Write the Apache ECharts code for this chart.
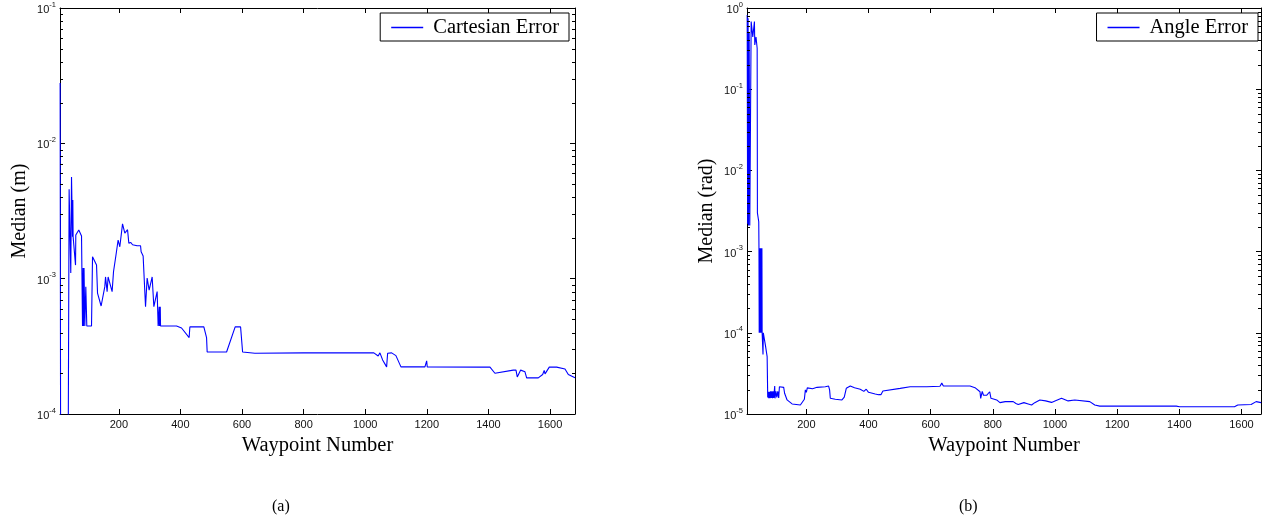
<!DOCTYPE html>
<html>
<head>
<meta charset="utf-8">
<script src="https://cdn.jsdelivr.net/npm/echarts@6/dist/echarts.min.js"></script>
<style>
  html, body { margin: 0; padding: 0; background: #ffffff; }
  #chart { width: 1269px; height: 529px; }
</style>
</head>
<body>
<div id="chart"></div>
<script>
// Waypoint axis tick labels (both panels)
const waypointTicks = [200, 400, 600, 800, 1000, 1200, 1400, 1600];

// Decade ticks of the two log axes
const cartesianDecades = [1e-4, 1e-3, 1e-2, 1e-1];
const angleDecades = [1e-5, 1e-4, 1e-3, 1e-2, 1e-1, 1];

// Panel (a): median cartesian error (m) per waypoint
const cartesianError = [
  [9.4, 0.0279], [12, 1e-6], [33, 1e-6], [38.6, 0.00457], [44, 0.0011], [46.4, 0.00564],
  [49.6, 0.00204], [50.6, 0.00381], [51.6, 0.00204], [59.4, 0.00126], [60.3, 0.0021],
  [70, 0.00229], [78.9, 0.00207], [82.1, 0.000447], [84, 0.0012], [85.4, 0.000447],
  [87, 0.0012], [89.6, 0.000447], [92.8, 0.000873], [96, 0.000447], [98.3, 0.000447],
  [111.3, 0.000447], [114.6, 0.00145], [127.6, 0.00126], [130.8, 0.000783],
  [142.5, 0.000628], [154.5, 0.000873], [156.8, 0.00103], [162, 0.000802],
  [165.2, 0.00103], [178.2, 0.000802], [182.8, 0.00113], [190.3, 0.00147],
  [197.7, 0.00193], [203.2, 0.00172], [212, 0.00254], [219.5, 0.00217], [228.3, 0.0023],
  [232.5, 0.00183], [239, 0.00185], [244.5, 0.00178], [259.4, 0.00175], [270.5, 0.00175],
  [272.4, 0.00158], [278.9, 0.00147], [286.7, 0.000621], [291.9, 0.00101],
  [298.4, 0.000824], [308.2, 0.00103], [313.7, 0.000621], [324.4, 0.000802],
  [327.6, 0.000447], [330.9, 0.000621], [331.8, 0.000447], [334.5, 0.000621],
  [335.4, 0.000447], [387.4, 0.000447], [403.6, 0.000432], [428.3, 0.000367],
  [430.6, 0.00044], [476, 0.00044], [484.8, 0.000367], [486.8, 0.000287],
  [549.8, 0.000287], [577.7, 0.00044], [595.3, 0.00044], [601.8, 0.000287],
  [641.7, 0.000281], [800, 0.000283], [1028, 0.000283], [1042, 0.000268],
  [1047.7, 0.000283], [1056.4, 0.000251], [1060.7, 0.000243], [1069.4, 0.000223],
  [1072.7, 0.000281], [1085.7, 0.000283], [1099.6, 0.00027], [1115.9, 0.000223],
  [1193.8, 0.000223], [1199.4, 0.000247], [1201.3, 0.000223], [1378, 0.000222],
  [1381, 0.000216], [1405, 0.000222], [1421, 0.0002], [1480.6, 0.000211],
  [1489.4, 0.000211], [1493.6, 0.000188], [1500, 0.000185], [1504.6, 0.000211],
  [1518.6, 0.000205], [1524, 0.000185], [1561.8, 0.000185], [1576, 0.000196],
  [1581, 0.00021], [1583.7, 0.000198], [1597.5, 0.000222], [1621.5, 0.000222],
  [1648.5, 0.000215], [1659.3, 0.000196], [1664.7, 0.0002], [1681, 0.000185]
];

// Panel (b): median angle error (rad) per waypoint
const angleError = [
  [9.6, 0.82], [11, 0.0022], [12.5, 0.75], [14, 0.0021], [16, 0.5], [18, 0.0021],
  [20.2, 0.0021], [22.4, 0.68], [27.6, 0.44], [32.9, 0.68], [34, 0.35], [38, 0.44],
  [41.7, 0.32], [42.5, 0.003], [46.8, 0.00233], [47.5, 0.0011], [48.3, 1e-4],
  [49.2, 0.0011], [50, 1e-4], [51, 0.0011], [52, 1e-4], [53, 0.0011], [54, 1e-4],
  [55, 0.0011], [56, 1e-4], [57, 0.0011], [57.7, 1e-4], [59.7, 1e-4], [60.5, 5.4e-5],
  [61.5, 1e-4], [68.3, 7e-5], [73.8, 5.1e-5], [75.7, 1.6e-5], [77, 1.88e-5],
  [79, 1.56e-5], [81, 1.88e-5], [83, 1.56e-5], [85, 1.9e-5], [87, 1.58e-5], [89, 1.9e-5],
  [91, 1.56e-5], [93, 1.9e-5], [95, 1.58e-5], [98.2, 2.21e-5], [99, 1.56e-5],
  [102, 1.9e-5], [105, 1.6e-5], [108, 1.9e-5], [111, 1.58e-5], [113.3, 2.17e-5],
  [116.5, 2.13e-5], [127.1, 2.13e-5], [130, 1.8e-5], [138, 1.49e-5], [154.1, 1.33e-5],
  [180.7, 1.29e-5], [186.2, 1.35e-5], [193.6, 1.52e-5], [196.8, 1.98e-5], [198, 2.02e-5],
  [200, 1.85e-5], [203, 2.1e-5], [207.4, 2.07e-5], [220, 2.05e-5], [234.4, 2.13e-5],
  [261, 2.17e-5], [271.6, 2.21e-5], [274.8, 1.98e-5], [277.1, 1.56e-5], [293.1, 1.52e-5],
  [314.6, 1.49e-5], [322, 1.61e-5], [328.5, 2.07e-5], [341.3, 2.21e-5], [355, 2.1e-5],
  [373.4, 2.02e-5], [385, 1.9e-5], [392.7, 2.02e-5], [400, 1.85e-5], [421.6, 1.76e-5],
  [425, 1.8e-5], [432.2, 1.73e-5], [440, 1.73e-5], [446.3, 1.92e-5], [450.5, 2.02e-5],
  [501.9, 2.07e-5], [534, 2.17e-5], [587.6, 2.17e-5], [630, 2.2e-5], [635.8, 2.4e-5],
  [640.9, 2.21e-5], [726.7, 2.21e-5], [742.7, 2.11e-5], [758.8, 1.88e-5], [761, 1.56e-5],
  [766, 1.9e-5], [770, 1.7e-5], [780, 1.7e-5], [790, 1.88e-5], [794.1, 1.56e-5],
  [800, 1.6e-5], [812.4, 1.49e-5], [823, 1.38e-5], [840, 1.42e-5], [865.7, 1.42e-5],
  [874.4, 1.35e-5], [881.8, 1.31e-5], [900, 1.38e-5], [913.9, 1.33e-5], [924.8, 1.29e-5],
  [935, 1.38e-5], [951.4, 1.49e-5], [970, 1.45e-5], [989, 1.39e-5], [1000, 1.45e-5],
  [1021.1, 1.56e-5], [1042.3, 1.45e-5], [1063.8, 1.49e-5], [1112, 1.42e-5],
  [1128.1, 1.29e-5], [1144.1, 1.25e-5], [1390.4, 1.25e-5], [1401, 1.23e-5],
  [1577.6, 1.23e-5], [1588.2, 1.29e-5], [1631.2, 1.31e-5], [1647.3, 1.42e-5],
  [1663.4, 1.38e-5]
];

const SERIF = '"Liberation Serif", "Times New Roman", serif';
const SANS = '"Liberation Sans", Arial, Helvetica, sans-serif';
const LINE_BLUE = '#0000ff';

const xRanges = [[9, 1681], [9, 1663]];
const yRanges = [[1e-4, 1e-1], [1e-5, 1]];

// 2..9 x 10^k positions between the decades of a log axis
function minorValues(lo, hi) {
  const out = [];
  for (let e = Math.round(Math.log10(lo)); e < Math.round(Math.log10(hi)); e++) {
    for (let m = 2; m <= 9; m++) out.push(m * Math.pow(10, e));
  }
  return out;
}

function decadeLabel(v) {
  const e = Math.round(Math.log10(v));
  return '{b|10}{s|' + e + '}';
}

const labelRich = {
  b: { fontFamily: SANS, fontSize: 11, color: '#111', lineHeight: 15, verticalAlign: 'bottom' },
  s: { fontFamily: SANS, fontSize: 7.5, color: '#111', lineHeight: 15, verticalAlign: 'top' }
};

const grids = [
  { left: 60, top: 8, width: 515, height: 406 },
  { left: 747, top: 8, width: 514, height: 406 }
];

const xAxes = [];
const yAxes = [];
[0, 1].forEach(function (i) {
  // bottom axis with labels
  xAxes.push({
    type: 'value', gridIndex: i, min: xRanges[i][0], max: xRanges[i][1], position: 'bottom',
    name: 'Waypoint Number', nameLocation: 'middle', nameGap: 17,
    nameTextStyle: { fontFamily: SERIF, fontSize: 20.5, color: '#000' },
    axisLine: { show: true, onZero: false, lineStyle: { color: '#000', width: 1 } },
    axisTick: { show: true, inside: true, length: 5, customValues: waypointTicks, lineStyle: { color: '#000' } },
    axisLabel: {
      show: true, customValues: waypointTicks, margin: 5, fontFamily: SANS, fontSize: 11, color: '#111',
      formatter: function (v) { return String(v); }
    },
    splitLine: { show: false }
  });
  // mirrored top axis (ticks only)
  xAxes.push({
    type: 'value', gridIndex: i, min: xRanges[i][0], max: xRanges[i][1], position: 'top',
    axisLine: { show: true, onZero: false, lineStyle: { color: '#000', width: 1 } },
    axisTick: { show: true, inside: true, length: 5, customValues: waypointTicks, lineStyle: { color: '#000' } },
    axisLabel: { show: false },
    splitLine: { show: false }
  });
  const decades = i === 0 ? cartesianDecades : angleDecades;
  yAxes.push({
    type: 'log', logBase: 10, gridIndex: i, min: yRanges[i][0], max: yRanges[i][1], position: 'left',
    name: i === 0 ? 'Median (m)' : 'Median (rad)', nameLocation: 'middle', nameGap: 30,
    nameTextStyle: { fontFamily: SERIF, fontSize: 20, color: '#000' },
    axisLine: { show: true, onZero: false, lineStyle: { color: '#000', width: 1 } },
    axisTick: { show: true, inside: true, length: 5, customValues: decades, lineStyle: { color: '#000' } },
    axisLabel: { show: true, customValues: decades, margin: 4, formatter: decadeLabel, rich: labelRich },
    splitLine: { show: false }
  });
  yAxes.push({
    type: 'log', logBase: 10, gridIndex: i, min: yRanges[i][0], max: yRanges[i][1], position: 'right',
    axisLine: { show: true, onZero: false, lineStyle: { color: '#000', width: 1 } },
    axisTick: { show: true, inside: true, length: 5, customValues: decades, lineStyle: { color: '#000' } },
    axisLabel: { show: false },
    splitLine: { show: false }
  });
});

// short inside ticks at 2..9 x 10^k on both vertical edges of a panel
function minorTickSeries(i) {
  const vals = minorValues(yRanges[i][0], yRanges[i][1]);
  return {
    type: 'custom', xAxisIndex: i * 2, yAxisIndex: i * 2, silent: true, clip: false, z: 5,
    data: vals.map(function (v) { return [xRanges[i][0], v]; }),
    renderItem: function (params, api) {
      const cs = params.coordSys;
      const y = Math.round(api.coord([api.value(0), api.value(1)])[1]) + 0.5;
      const st = { stroke: '#000', lineWidth: 1 };
      return {
        type: 'group',
        children: [
          { type: 'line', shape: { x1: cs.x, y1: y, x2: cs.x + 3, y2: y }, style: st },
          { type: 'line', shape: { x1: cs.x + cs.width - 3, y1: y, x2: cs.x + cs.width, y2: y }, style: st }
        ]
      };
    }
  };
}

function legendBox(name, right) {
  return {
    data: [name], right: right, top: 13, orient: 'horizontal',
    selectedMode: false, icon: 'rect', itemWidth: 32, itemHeight: 1.5,
    itemStyle: { color: LINE_BLUE, borderWidth: 0, opacity: 1 },
    borderColor: '#000', borderWidth: 1, borderRadius: 0, padding: [4, 10, 3, 11],
    backgroundColor: '#fff',
    textStyle: { fontFamily: SERIF, fontSize: 20.5, lineHeight: 20, color: '#000', padding: [0, 0, 0, 5] }
  };
}

const option = {
  backgroundColor: '#ffffff',
  animation: false,
  grid: grids,
  xAxis: xAxes,
  yAxis: yAxes,
  legend: [legendBox('Cartesian Error', 700), legendBox('Angle Error', 11)],
  graphic: [
    { type: 'text', left: 272, top: 499, style: { text: '(a)', font: '16px ' + SERIF, fill: '#000' } },
    { type: 'text', left: 959, top: 499, style: { text: '(b)', font: '16px ' + SERIF, fill: '#000' } }
  ],
  series: [
    {
      name: 'Cartesian Error', type: 'line', xAxisIndex: 0, yAxisIndex: 0,
      data: cartesianError, symbol: 'none', showSymbol: false, clip: true,
      lineStyle: { color: LINE_BLUE, width: 1.1 }, itemStyle: { color: LINE_BLUE }
    },
    {
      name: 'Angle Error', type: 'line', xAxisIndex: 2, yAxisIndex: 2,
      data: angleError, symbol: 'none', showSymbol: false, clip: true,
      lineStyle: { color: LINE_BLUE, width: 1.1 }, itemStyle: { color: LINE_BLUE }
    },
    minorTickSeries(0),
    minorTickSeries(1)
  ]
};

const chart = echarts.init(document.getElementById('chart'), null, { renderer: 'canvas' });
chart.setOption(option);
</script>
</body>
</html>
